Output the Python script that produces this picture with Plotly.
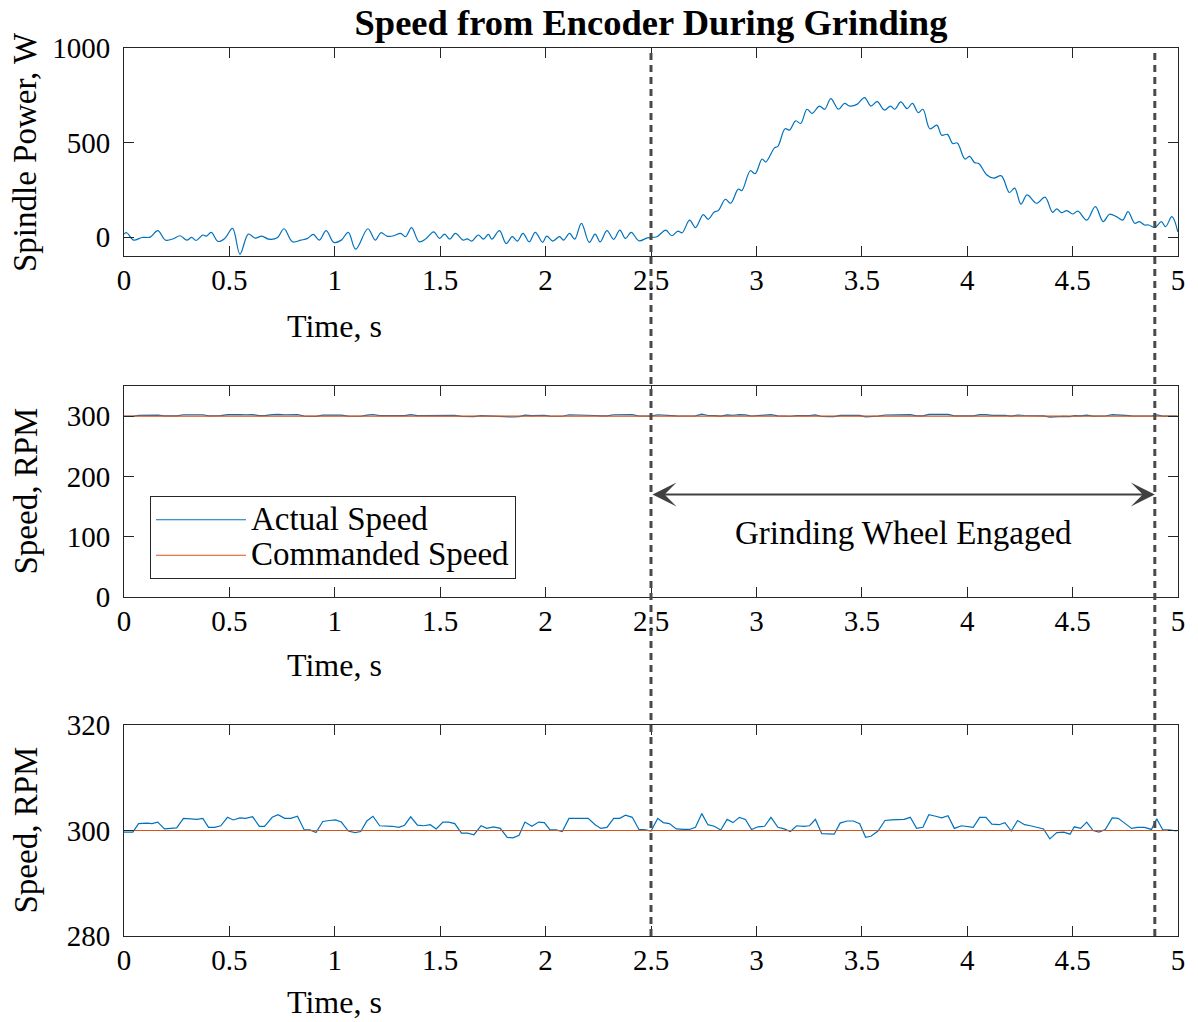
import plotly.graph_objects as go

# ---------------- data ----------------
t_power = [
    0.000, 0.013, 0.045, 0.085, 0.125, 0.160, 0.197, 0.234, 0.266, 0.298,
    0.321, 0.342, 0.374, 0.390, 0.414, 0.446, 0.478, 0.515, 0.550, 0.590,
    0.622, 0.654, 0.687, 0.727, 0.759, 0.799, 0.839, 0.871, 0.898, 0.927,
    0.959, 0.995, 1.031, 1.064, 1.099, 1.157, 1.192, 1.219, 1.248, 1.280,
    1.312, 1.336, 1.364, 1.400, 1.432, 1.469, 1.497, 1.521, 1.545, 1.572,
    1.609, 1.628, 1.649, 1.681, 1.705, 1.729, 1.745, 1.781, 1.813, 1.842,
    1.866, 1.893, 1.922, 1.951, 1.986, 2.005, 2.034, 2.066, 2.085, 2.114,
    2.138, 2.170, 2.207, 2.235, 2.259, 2.291, 2.323, 2.352, 2.379, 2.406,
    2.443, 2.483,
    2.528, 2.570, 2.598, 2.628, 2.648, 2.683, 2.711, 2.748, 2.771, 2.800,
    2.819, 2.853, 2.878, 2.914, 2.931, 2.971, 2.994, 3.027, 3.044, 3.086,
    3.102, 3.136, 3.157, 3.186, 3.210, 3.240, 3.264, 3.299, 3.324, 3.353,
    3.389, 3.418, 3.443, 3.477, 3.513, 3.543, 3.573, 3.607, 3.636, 3.656,
    3.685, 3.715, 3.740, 3.768, 3.790, 3.823, 3.856, 3.879, 3.906, 3.931,
    3.953, 3.989, 4.012, 4.034, 4.056, 4.092, 4.126, 4.162, 4.200, 4.225,
    4.255, 4.284, 4.329, 4.369, 4.405, 4.425, 4.447, 4.472, 4.500, 4.525,
    4.567, 4.608, 4.645, 4.675, 4.708, 4.738, 4.763, 4.795, 4.816, 4.841,
    4.861, 4.891, 4.921, 4.941, 4.971, 4.999,
]
power_w = [
    16, 23, -16, -2, 0, 34, -16, -9, 7, -16,
    -2, -18, 11, 5, 25, -23, -7, 46, -90, 16,
    -5, 5, -11, -4, 44, -25, -16, -7, 14, -16,
    34, -28, -16, 25, -64, 44, -16, 23, 5, 7,
    20, 2, 50, -25, -9, 28, -7, 16, -11, 20,
    -16, -9, -21, 11, -11, 14, -11, 34, -34, 2,
    -21, 20, -25, 25, -28, 5, -21, 2, -16, 20,
    -11, 73, -28, 16, -25, 34, -12, 37, -7, 25,
    -20, -4,
    2, 37, 7, 32, 23, 90, 50, 119, 94, 133,
    140, 200, 179, 254, 246, 351, 335, 413, 397, 472,
    480, 573, 566, 615, 601, 676, 654, 693, 676, 732,
    676, 707, 693, 702, 738, 693, 716, 672, 693, 676,
    715, 679, 707, 658, 676, 573, 592, 539, 543, 495,
    498, 413, 427, 395, 388, 330, 312, 324, 236, 259,
    174, 223, 179, 211, 131, 149, 129, 140, 122, 137,
    90, 161, 82, 121, 108, 90, 135, 73, 82, 64,
    64, 51, 82, 55, 108, 28,
]

t_speed = [
    0.000, 0.042, 0.069, 0.109, 0.133, 0.160, 0.192, 0.221, 0.250, 0.282,
    0.318, 0.346, 0.374, 0.401, 0.430, 0.459, 0.491, 0.518, 0.550, 0.577,
    0.610, 0.642, 0.667, 0.703, 0.731, 0.762, 0.791, 0.823, 0.855, 0.882,
    0.911, 0.943, 0.975, 1.004, 1.031, 1.064, 1.096, 1.123, 1.152, 1.181,
    1.213, 1.240, 1.272, 1.304, 1.331, 1.360, 1.392, 1.421, 1.453, 1.481,
    1.513, 1.540, 1.569, 1.601, 1.630, 1.660, 1.694, 1.721, 1.753, 1.785,
    1.818, 1.845, 1.874, 1.902, 1.935, 1.967, 1.994, 2.021, 2.050, 2.079,
    2.111, 2.143, 2.175, 2.202, 2.235, 2.262, 2.291, 2.323, 2.352, 2.379,
    2.411, 2.443, 2.475,
    2.500, 2.532, 2.558, 2.587, 2.620, 2.653, 2.683, 2.711, 2.741, 2.770,
    2.800, 2.831, 2.861, 2.889, 2.919, 2.948, 2.977, 3.007, 3.039, 3.069,
    3.102, 3.132, 3.161, 3.191, 3.224, 3.252, 3.280, 3.310, 3.339, 3.369,
    3.397, 3.430, 3.460, 3.490, 3.518, 3.543, 3.577, 3.610, 3.640, 3.670,
    3.701, 3.730, 3.760, 3.790, 3.818, 3.851, 3.879, 3.909, 3.939, 3.973,
    4.001, 4.029, 4.059, 4.089, 4.117, 4.151, 4.179, 4.209, 4.239, 4.272,
    4.300, 4.334, 4.362, 4.392, 4.425, 4.458, 4.488, 4.508, 4.538, 4.567,
    4.597, 4.625, 4.655, 4.688, 4.716, 4.750, 4.780, 4.808, 4.841, 4.874,
    4.899, 4.928, 4.958, 4.994,
]
actual_rpm = [
    299.7, 299.7, 301.3, 301.4, 301.3, 301.6, 300.3, 300.4, 300.5, 302.3,
    302.2, 302.1, 302.3, 300.6, 300.6, 300.9, 302.5, 302.0, 302.4, 302.3,
    302.6, 300.8, 300.8, 302.5, 303.0, 302.3, 302.3, 302.7, 300.1, 300.1,
    299.6, 301.7, 301.9, 302.0, 301.6, 299.9, 299.6, 299.8, 301.8, 302.7,
    300.9, 300.9, 300.8, 300.6, 301.0, 302.6, 301.0, 300.9, 301.1, 300.3,
    301.6, 301.6, 301.3, 299.5, 299.5, 299.2, 300.9, 300.4, 300.7, 300.4,
    298.7, 298.6, 299.1, 301.6, 300.8, 301.6, 301.5, 300.1, 300.1, 299.8,
    302.3, 302.3, 302.3, 302.3, 301.1, 300.4, 300.6, 302.3, 302.3, 302.9,
    302.5, 300.2, 300.1,
    299.9, 302.3, 301.5, 301.3, 300.3, 300.2, 300.2, 300.6, 303.2, 301.1,
    300.8, 300.1, 302.1, 301.5, 302.5, 302.1, 300.2, 300.7, 300.8, 302.5,
    300.6, 300.3, 299.8, 300.9, 300.8, 300.9, 302.1, 299.4, 299.3, 299.3,
    301.4, 301.8, 301.8, 301.3, 298.7, 298.9, 299.9, 301.9, 302.0, 302.1,
    302.1, 302.5, 300.4, 300.6, 303.0, 302.7, 302.4, 302.8, 300.4, 300.9,
    300.7, 300.6, 302.5, 302.5, 301.2, 301.1, 301.5, 299.9, 301.9, 301.1,
    300.9, 300.6, 300.3, 298.4, 299.6, 299.7, 299.3, 300.7, 300.4, 301.6,
    300.0, 299.7, 300.2, 302.4, 302.3, 301.3, 300.4, 300.6, 300.6, 300.2,
    302.2, 300.1, 300.1, 299.9,
]
t_cmd = [0.0, 5.0]
commanded_rpm = [300, 300]

engaged_times = [2.5, 4.89]   # grinding wheel engaged / disengaged
arrow_level_rpm = 170
engaged_label = "Grinding Wheel Engaged"
engaged_label_pos = (3.70, 106)

x_ticks = [0, 0.5, 1, 1.5, 2, 2.5, 3, 3.5, 4, 4.5, 5]
x_tick_labels = ["0", "0.5", "1", "1.5", "2", "2.5", "3", "3.5", "4", "4.5", "5"]
y1_ticks = [0, 500, 1000]
y2_ticks = [0, 100, 200, 300]
y3_ticks = [280, 300, 320]

title = "Speed from Encoder During Grinding"
x_label = "Time, s"
y1_label = "Spindle Power, W"
y2_label = "Speed, RPM"
y3_label = "Speed, RPM"

# ---------------- styling ----------------
BLUE = "#0072BD"
ORANGE = "#D95319"
AX = "#262626"
FONT = "Liberation Serif"
TICK_SIZE = 29
TEXT_SIZE = 33


def big(s, size=TEXT_SIZE):
    return '<span style="font-size:%dpx">%s</span>' % (size, s)


fig = go.Figure()

fig.add_trace(go.Scatter(x=t_power, y=power_w, mode="lines",
                         line=dict(color=BLUE, width=1.2, shape="spline", smoothing=1.0),
                         xaxis="x", yaxis="y", showlegend=False))

fig.add_trace(go.Scatter(x=t_speed, y=actual_rpm, mode="lines", name=big("Actual Speed"),
                         line=dict(color=BLUE, width=1.2), xaxis="x2", yaxis="y2"))
fig.add_trace(go.Scatter(x=t_cmd, y=commanded_rpm, mode="lines", name=big("Commanded Speed"),
                         line=dict(color=ORANGE, width=1.2), xaxis="x2", yaxis="y2"))

fig.add_trace(go.Scatter(x=t_speed, y=actual_rpm, mode="lines",
                         line=dict(color=BLUE, width=1.2), xaxis="x3", yaxis="y3",
                         showlegend=False))
fig.add_trace(go.Scatter(x=t_cmd, y=commanded_rpm, mode="lines",
                         line=dict(color=ORANGE, width=1.2), xaxis="x3", yaxis="y3",
                         showlegend=False))

W, H = 1198, 1022
L, R, T, B = 124, 20, 48, 86
plot_h = H - T - B  # 888


def ydom(top_px, bot_px):
    return [(H - B - bot_px) / plot_h, (H - B - top_px) / plot_h]


common = dict(showline=True, linecolor=AX, linewidth=1, mirror="ticks",
              ticks="inside", ticklen=10, tickwidth=1, tickcolor=AX,
              showgrid=False, zeroline=False,
              tickfont=dict(family=FONT, size=TICK_SIZE, color="black"))

xcommon = dict(common, range=[0, 5], tickvals=x_ticks, ticktext=x_tick_labels,
               ticklabelstandoff=-2)
ycommon = dict(common, ticklabelstandoff=7)

fig.update_layout(
    width=W, height=H,
    margin=dict(l=L, r=R, t=T, b=B, autoexpand=False),
    paper_bgcolor="white", plot_bgcolor="white",
    font=dict(family=FONT, color="black", size=TEXT_SIZE),
    title=dict(text="<b>" + title + "</b>", x=0.5, xref="paper", xanchor="center",
               y=1 - 22 / H, yref="container", yanchor="middle",
               font=dict(family=FONT, size=36.5, color="black")),
    xaxis=dict(xcommon, anchor="y", domain=[0, 1]),
    yaxis=dict(ycommon, anchor="x", domain=ydom(48, 256), range=[-100, 1000],
               tickvals=y1_ticks),
    xaxis2=dict(xcommon, anchor="y2", domain=[0, 1]),
    yaxis2=dict(ycommon, anchor="x2", domain=ydom(386, 597), range=[0, 350],
                tickvals=y2_ticks),
    xaxis3=dict(xcommon, anchor="y3", domain=[0, 1]),
    yaxis3=dict(ycommon, anchor="x3", domain=ydom(725, 936), range=[280, 320],
                tickvals=y3_ticks),
    legend=dict(x=(150 - L) / (W - L - R), y=(H - B - 496) / plot_h,
                xanchor="left", yanchor="top",
                bgcolor="white", bordercolor=AX, borderwidth=1,
                font=dict(family=FONT, size=25, color="black"),
                itemwidth=90, tracegroupgap=0),
)

# dashed vertical lines spanning all three panels
for xe in engaged_times:
    fig.add_shape(type="line", xref="x3", yref="paper", x0=xe, x1=xe, y0=0, y1=1,
                  line=dict(color="#4a4a4a", width=3, dash="7px,5px"), layer="above")

ann = []
for (xa, ya), ys in zip((("x", "y"), ("x2", "y2"), ("x3", "y3")), (-70, -68, -66)):
    ann.append(dict(text=x_label, xref=xa, x=1.0, yref=ya + " domain", y=0,
                    yshift=ys, showarrow=False, xanchor="center", yanchor="middle",
                    font=dict(family=FONT, size=32, color="black")))
for ya, lab in (("y", y1_label), ("y2", y2_label), ("y3", y3_label)):
    ann.append(dict(text=lab, xref="paper", x=0, xshift=-99, yref=ya + " domain", y=0.5,
                    showarrow=False, textangle=-90, xanchor="center", yanchor="middle",
                    font=dict(family=FONT, size=TEXT_SIZE, color="black")))

ann.append(dict(x=engaged_times[1], y=arrow_level_rpm, ax=engaged_times[0], ay=arrow_level_rpm,
                xref="x2", yref="y2", axref="x2", ayref="y2", text="",
                showarrow=True, arrowhead=3, startarrowhead=3, arrowside="end+start",
                arrowwidth=2, arrowsize=2, startarrowsize=2, arrowcolor="#404040"))
ann.append(dict(text=engaged_label, x=engaged_label_pos[0], y=engaged_label_pos[1],
                xref="x2", yref="y2", showarrow=False, xanchor="center", yanchor="middle",
                font=dict(family=FONT, size=TEXT_SIZE, color="black")))
fig.update_layout(annotations=ann)

fig.write_html("out.html")
